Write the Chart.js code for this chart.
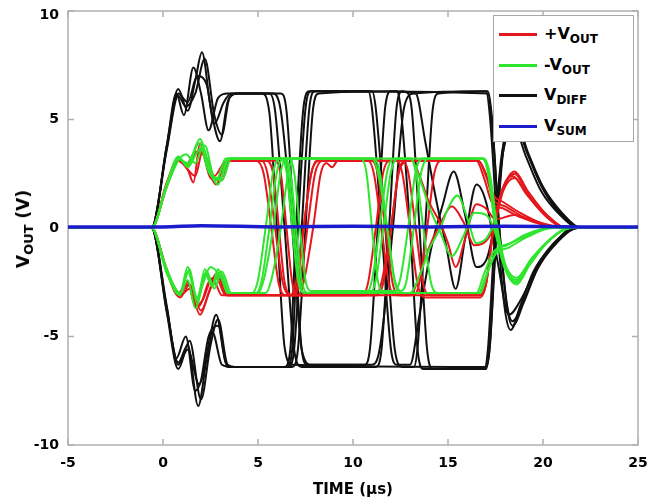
<!DOCTYPE html>
<html>
<head>
<meta charset="utf-8">
<script src="https://cdn.jsdelivr.net/npm/chart.js@4.4.0/dist/chart.umd.min.js"></script>
<style>
html, body { margin: 0; padding: 0; background: #fff; }
#wrap { position: relative; width: 654px; height: 504px; font-family: "DejaVu Sans", sans-serif; font-weight: bold; color: #000; }
#chart { position: absolute; left: 0; top: 0; }
#ytitle { position: absolute; left: 23px; top: 229px; transform: translate(-50%, -50%) rotate(-90deg); white-space: nowrap; font-size: 17px; }
#ytitle sub { font-size: 13px; }
#legend { position: absolute; left: 493px; top: 15px; width: 141px; height: 127px; border: 1px solid #a8a8a8; background: #fff; box-sizing: border-box; }
.item { position: absolute; left: 0; height: 22px; width: 138px; }
.item .swatch { position: absolute; left: 5px; top: 9px; width: 38px; height: 3px; }
.item .txt { position: absolute; left: 50px; top: 0; font-size: 16px; line-height: 20px; white-space: nowrap; }
sub { font-size: 12px; vertical-align: -4px; line-height: 0; }
</style>
</head>
<body>
<div id="wrap">
  <canvas id="chart" width="654" height="504"></canvas>
  <div id="ytitle">V<sub>OUT</sub> (V)</div>
  <div id="legend"></div>
</div>
<script>
// axes
const timeRange = [-5, 25];
const voltRange = [-10, 10];
const xTicks = [-5, 0, 5, 10, 15, 20, 25];
const yTicks = [-10, -5, 0, 5, 10];

// legend
const seriesMain = ['+V', '-V', 'V', 'V'];
const seriesSub = ['OUT', 'OUT', 'DIFF', 'SUM'];
const seriesColors = ['#e5171d', '#2ee62e', '#111111', '#1b1bcc'];

// traces, [time us, volts]
const red1 = [[-5,0],[-0.6,0],[0.2,2.0],[0.8,3.2],[1.3,2.7],[1.6,2.1],[1.95,3.9],[2.4,2.6],[2.8,2.0],[3.3,3.0],[3.7,3.1],[5.4,3.1],[5.8,2.5],[6.1,0],[6.4,-2.5],[6.8,-3.1],[11.2,-3.1],[11.5,-2.5],[12.0,0],[12.4,2.6],[12.8,3.1],[16.6,3.1],[17.0,2.4],[17.4,1.3],[18.0,1.0],[19.0,0.5],[20.5,0.1],[21.2,0],[25,0]];
const red2 = [[-5,0],[-0.6,0],[0.2,1.9],[0.8,3.1],[1.2,2.9],[1.6,3.4],[2.0,3.6],[2.5,2.3],[2.9,2.2],[3.4,3.1],[4.9,3.1],[5.3,2.5],[5.7,0],[6.1,-2.6],[6.5,-3.1],[16.7,-3.1],[17.0,-2.6],[17.4,0],[17.9,1.8],[18.5,2.5],[19.2,1.6],[20.2,0.6],[21.3,0],[25,0]];
const red3 = [[-5,0],[-0.6,0],[0.2,-2.0],[0.9,-3.1],[1.4,-2.8],[1.95,-4.0],[2.4,-3.0],[2.8,-2.1],[3.4,-3.1],[6.9,-3.1],[7.2,-2.5],[7.6,0],[8.0,2.5],[8.4,3.1],[11.0,3.1],[11.3,2.5],[11.7,0],[12.1,-2.6],[12.5,-3.1],[13.2,-3.1],[13.5,-2.5],[13.9,0],[14.3,2.6],[14.7,3.1],[16.6,3.1],[17.0,2.5],[17.4,1.5],[17.9,1.2],[18.8,0.7],[20,0.2],[21,0],[25,0]];
const red4 = [[-5,0],[-0.6,0],[0.2,-1.9],[0.8,-3.0],[1.3,-2.5],[1.7,-3.6],[2.1,-3.3],[2.6,-2.3],[3.1,-3.1],[7.1,-3.1],[7.4,-2.5],[7.9,0],[8.3,2.5],[8.6,3.0],[8.9,2.8],[9.2,3.1],[12.3,3.1],[12.6,2.5],[13.0,0],[13.4,-2.6],[13.8,-3.2],[16.7,-3.2],[17.0,-2.6],[17.4,0],[17.9,1.9],[18.4,2.4],[19.1,1.6],[20.1,0.6],[21.2,0],[25,0]];
const red5 = [[-5,0],[-0.6,0],[0.2,2.1],[0.8,3.2],[1.2,2.8],[1.7,2.4],[2.1,3.6],[2.6,2.3],[3.1,2.2],[3.5,3.1],[5.9,3.1],[6.2,2.5],[6.5,0],[6.8,-2.5],[7.1,-3.1],[10.5,-3.1],[10.8,-2.5],[11.2,0],[11.6,2.6],[12.0,3.1],[13.1,3.1],[13.5,2.4],[14.0,1.2],[14.6,0.2],[15.0,-0.7],[15.4,-1.8],[15.9,-0.5],[16.5,1.1],[17.0,0.9],[17.5,0.4],[18.5,0.6],[19.5,0.3],[21,0],[25,0]];
const red6 = [[-5,0],[-0.6,0],[0.2,-2.0],[0.9,-3.2],[1.4,-2.6],[2.0,-3.8],[2.5,-2.8],[2.9,-2.2],[3.4,-3.1],[6.8,-3.1],[7.1,-2.5],[7.4,0],[7.8,2.5],[8.1,3.1],[10.8,3.1],[11.1,2.5],[11.5,0],[11.9,-2.6],[12.3,-3.1],[13.0,-3.1],[13.5,-2.2],[14.0,-0.9],[14.6,0.2],[15.2,1.0],[15.8,0.3],[16.4,-0.8],[17.0,-0.6],[17.4,0],[17.9,1.7],[18.5,2.3],[19.2,1.5],[20.2,0.5],[21.2,0],[25,0]];
const red7 = [[-5,0],[-0.6,0],[0.2,-2.0],[0.8,-3.1],[1.3,-2.6],[1.9,-3.6],[2.4,-2.5],[2.8,-2.3],[3.3,-3.1],[6.7,-3.1],[7.0,-2.5],[7.4,0],[7.8,2.5],[8.2,3.1],[16.5,3.1],[16.9,2.3],[17.3,1.2],[17.9,0.9],[18.8,0.5],[20.2,0.1],[21,0],[25,0]];
const red8 = [[-5,0],[-0.6,0],[0.2,2.0],[0.8,3.1],[1.3,2.9],[1.8,3.5],[2.3,3.2],[2.7,2.4],[3.2,3.0],[3.6,3.1],[5.2,3.1],[5.5,2.5],[5.9,0],[6.3,-2.5],[6.7,-3.1],[11.3,-3.1],[11.6,-2.5],[12.0,0],[12.4,2.5],[12.7,3.0],[12.9,2.6],[13.3,0],[13.7,-2.6],[14.1,-3.1],[16.7,-3.1],[17.0,-2.5],[17.4,0],[17.9,1.8],[18.5,2.6],[19.2,1.7],[20.2,0.6],[21.3,0],[25,0]];

const green1 = [[-5,0],[-0.6,0],[0.2,-2.0],[0.9,-3.0],[1.4,-1.9],[1.8,-3.5],[2.2,-1.9],[2.6,-2.6],[2.9,-1.9],[3.4,-3.0],[3.8,-3.0],[5.0,-3.0],[5.3,-2.4],[5.8,0],[6.2,2.6],[6.5,3.2],[11.0,3.2],[11.3,2.6],[11.8,0],[12.2,-2.5],[12.6,-3.0],[16.6,-3.0],[17.0,-2.2],[17.5,-1.2],[18.2,-0.9],[19.2,-0.4],[20.5,0],[25,0]];
const green2 = [[-5,0],[-0.6,0],[0.2,-1.9],[0.9,-3.0],[1.3,-2.4],[1.7,-3.7],[2.1,-2.6],[2.5,-1.8],[3.0,-2.2],[3.5,-3.0],[4.7,-3.0],[5.0,-2.4],[5.4,0],[5.8,2.6],[6.2,3.2],[16.8,3.2],[17.1,2.6],[17.5,0],[18.0,-1.8],[18.6,-2.5],[19.3,-1.6],[20.3,-0.6],[21.4,0],[25,0]];
const green3 = [[-5,0],[-0.6,0],[0.2,2.0],[0.8,3.2],[1.3,3.0],[1.95,4.1],[2.4,2.8],[2.9,2.0],[3.4,3.2],[6.3,3.2],[6.6,2.6],[6.9,0],[7.2,-2.5],[7.5,-3.0],[10.7,-3.0],[11.0,-2.4],[11.4,0],[11.8,2.6],[12.2,3.2],[13.0,3.2],[13.3,2.6],[13.7,0],[14.1,-2.5],[14.5,-3.0],[16.7,-3.0],[17.1,-2.0],[17.6,-1.0],[18.3,-0.7],[19.3,-0.3],[20.3,0],[25,0]];
const green4 = [[-5,0],[-0.6,0],[0.2,1.9],[0.8,3.1],[1.2,3.4],[1.7,3.0],[2.1,3.7],[2.6,2.4],[3.0,2.3],[3.5,3.2],[6.6,3.2],[6.9,2.6],[7.2,0],[7.5,-2.4],[7.8,-2.9],[12.2,-2.9],[12.5,-2.3],[12.9,0],[13.3,2.6],[13.7,3.2],[16.9,3.2],[17.2,2.5],[17.6,0],[18.1,-1.9],[18.6,-2.4],[19.4,-1.5],[20.4,-0.5],[21.5,0],[25,0]];
const green5 = [[-5,0],[-0.6,0],[0.2,-2.1],[0.9,-3.1],[1.3,-2.0],[1.8,-3.3],[2.3,-2.0],[2.7,-2.8],[3.1,-2.0],[3.6,-3.0],[5.4,-3.0],[5.7,-2.4],[6.2,0],[6.6,2.6],[6.9,3.2],[10.4,3.2],[10.7,2.6],[11.0,0],[11.3,-2.4],[11.7,-3.0],[13.0,-3.0],[13.5,-2.2],[14.0,-1.0],[14.6,0],[15.0,0.9],[15.5,1.5],[16.0,0.5],[16.5,-0.7],[17.0,-0.5],[17.4,0],[18.0,-1.7],[18.6,-2.3],[19.4,-1.4],[20.4,-0.5],[21.4,0],[25,0]];
const green6 = [[-5,0],[-0.6,0],[0.2,2.0],[0.8,3.3],[1.3,2.8],[1.8,3.5],[2.2,3.8],[2.7,2.3],[3.1,2.2],[3.6,3.2],[6.4,3.2],[6.7,2.6],[7.0,0],[7.3,-2.4],[7.6,-3.0],[10.9,-3.0],[11.2,-2.4],[11.6,0],[12.0,2.6],[12.4,3.2],[13.0,3.2],[13.5,2.3],[14.0,1.0],[14.6,-0.2],[15.2,-1.3],[15.8,-0.4],[16.4,0.7],[17.0,0.6],[17.4,0],[18.0,-1.9],[18.6,-2.6],[19.3,-1.7],[20.3,-0.6],[21.4,0],[25,0]];
const green7 = [[-5,0],[-0.6,0],[0.2,2.0],[0.8,3.2],[1.3,2.9],[1.9,3.9],[2.4,2.6],[2.8,2.2],[3.3,3.2],[6.2,3.2],[6.5,2.6],[6.8,0],[7.1,-2.4],[7.4,-3.0],[16.5,-3.0],[16.9,-2.1],[17.4,-1.1],[18.1,-0.8],[19.1,-0.3],[20.3,0],[25,0]];
const green8 = [[-5,0],[-0.6,0],[0.2,-2.0],[0.9,-3.0],[1.3,-1.8],[1.8,-3.2],[2.2,-2.1],[2.6,-2.7],[3.0,-2.0],[3.5,-3.0],[4.9,-3.0],[5.2,-2.4],[5.6,0],[6.0,2.6],[6.4,3.2],[11.1,3.2],[11.4,2.6],[11.8,0],[12.2,-2.4],[12.5,-2.9],[12.8,-2.5],[13.2,0],[13.6,2.6],[14.0,3.2],[16.8,3.2],[17.1,2.6],[17.5,0],[18.0,-1.8],[18.6,-2.5],[19.3,-1.6],[20.3,-0.6],[21.4,0],[25,0]];

const black1 = [[-5,0],[-0.6,0],[0.2,3.8],[0.8,6.4],[1.3,5.4],[1.7,6.8],[2.05,8.1],[2.5,5.6],[3.0,4.0],[3.4,5.8],[3.8,6.2],[5.8,6.2],[6.2,5.4],[6.8,0],[7.3,-5.6],[7.8,-6.3],[11.0,-6.3],[11.4,-5.6],[12.1,0],[12.7,5.6],[13.2,6.2],[17.0,6.3],[17.2,5.2],[17.6,0],[18.0,-3.8],[18.3,-4.7],[18.8,-3.6],[19.5,-2.0],[20.5,-0.8],[21.6,0],[25,0]];
const black2 = [[-5,0],[-0.6,0],[0.2,3.8],[0.7,6.2],[1.1,5.2],[1.6,7.4],[2.0,6.2],[2.4,4.5],[2.9,6.0],[3.4,6.2],[5.2,6.2],[5.6,5.3],[6.0,0],[6.4,-5.5],[6.8,-6.3],[17.0,-6.4],[17.2,-5.5],[17.5,-1.0],[17.9,3.5],[18.5,5.0],[19.2,3.4],[20.0,1.8],[21.0,0.6],[22.0,0],[25,0]];
const black3 = [[-5,0],[-0.6,0],[0.2,-3.8],[0.8,-6.2],[1.3,-5.4],[1.85,-8.2],[2.3,-6.0],[2.8,-4.0],[3.3,-6.2],[3.7,-6.4],[6.6,-6.4],[6.9,-5.6],[7.3,0],[7.7,5.5],[8.0,6.3],[11.0,6.3],[11.2,5.5],[11.7,0],[12.2,-5.6],[12.6,-6.4],[13.2,-6.4],[13.4,-5.5],[13.8,0],[14.2,5.5],[14.5,6.2],[17.1,6.3],[17.3,5.2],[17.7,0],[18.1,-3.6],[18.4,-4.5],[19.0,-3.4],[19.7,-1.9],[20.7,-0.7],[21.8,0],[25,0]];
const black4 = [[-5,0],[-0.6,0],[0.2,-3.6],[0.7,-6.0],[1.2,-5.0],[1.7,-7.5],[2.1,-6.8],[2.6,-4.8],[3.1,-6.3],[3.6,-6.4],[6.8,-6.4],[7.1,-5.6],[7.5,0],[7.9,5.5],[8.2,6.2],[12.3,6.3],[12.5,5.6],[13.0,0],[13.4,-5.6],[13.7,-6.5],[16.9,-6.5],[17.1,-5.6],[17.4,-1.2],[17.8,3.2],[18.4,4.8],[19.1,3.3],[19.9,1.7],[20.9,0.6],[21.9,0],[25,0]];
const black5 = [[-5,0],[-0.6,0],[0.2,3.6],[0.8,6.1],[1.2,5.6],[1.7,6.2],[2.2,7.8],[2.7,5.2],[3.1,4.3],[3.5,6.0],[4.0,6.2],[6.2,6.2],[6.5,5.4],[6.9,0],[7.3,-5.6],[7.6,-6.3],[10.6,-6.3],[10.9,-5.5],[11.3,0],[11.7,5.6],[12.0,6.3],[13.3,6.2],[13.8,4.0],[14.4,1.2],[14.9,-0.8],[15.4,-2.8],[15.9,-0.5],[16.5,2.0],[17.0,1.2],[17.6,-1.5],[18.2,-4.0],[18.9,-3.2],[19.8,-1.6],[20.8,-0.5],[21.8,0],[25,0]];
const black6 = [[-5,0],[-0.6,0],[0.2,-3.9],[0.8,-6.5],[1.4,-5.2],[2.0,-7.9],[2.5,-5.4],[2.9,-4.2],[3.4,-6.3],[3.8,-6.4],[6.5,-6.4],[6.8,-5.6],[7.1,0],[7.5,5.5],[7.8,6.3],[10.8,6.3],[11.0,5.5],[11.5,0],[12.0,-5.6],[12.3,-6.3],[13.0,-6.3],[13.5,-4.0],[14.1,-1.0],[14.7,1.0],[15.3,2.6],[15.9,0.6],[16.5,-1.8],[17.0,-1.5],[17.4,0],[17.9,3.5],[18.5,4.8],[19.2,3.4],[20.0,1.8],[21.0,0.6],[22.0,0],[25,0]];
const black7 = [[-5,0],[-0.6,0],[0.2,-3.7],[0.8,-6.3],[1.3,-5.6],[1.9,-7.2],[2.4,-5.0],[2.9,-4.5],[3.4,-6.4],[6.4,-6.4],[6.7,-5.6],[7.0,0],[7.4,5.6],[7.7,6.3],[17.1,6.2],[17.3,5.0],[17.7,0],[18.1,-3.5],[18.4,-4.3],[19.0,-3.3],[19.8,-1.7],[20.8,-0.6],[21.8,0],[25,0]];
const black8 = [[-5,0],[-0.6,0],[0.2,3.7],[0.8,6.2],[1.3,5.8],[1.8,7.0],[2.3,6.6],[2.7,4.8],[3.2,5.8],[3.6,6.2],[5.6,6.2],[5.9,5.4],[6.4,0],[6.9,-5.6],[7.3,-6.4],[11.2,-6.4],[11.5,-5.6],[11.9,0],[12.3,5.6],[12.6,6.3],[12.9,6.2],[13.1,5.4],[13.5,0],[13.9,-5.6],[14.2,-6.5],[17.0,-6.5],[17.2,-5.4],[17.5,-0.8],[17.9,3.7],[18.5,5.1],[19.2,3.5],[20.0,1.9],[21.0,0.7],[22.0,0],[25,0]];

const blue1 = [[-5,0.05],[0,0.05],[2,0.1],[6,0.05],[10,0.08],[14,0.05],[18,0.08],[22,0.05],[25,0.05]];

const seriesTraces = [
    [red1, red2, red3, red4, red5, red6, red7, red8],
    [green1, green2, green3, green4, green5, green6, green7, green8],
    [black1, black2, black3, black4, black5, black6, black7, black8],
    [blue1]
];
// draw order: blue on top, then green, red, black
const seriesOrder = [2, 1, 3, 0];
const seriesWidth = [2, 2, 2, 3.5];

const FONT = '"DejaVu Sans", sans-serif';

// legend
const legendEl = document.getElementById('legend');
seriesMain.forEach((m, i) => {
    const item = document.createElement('div');
    item.className = 'item';
    item.style.top = (8 + i * 30.5) + 'px';
    item.innerHTML = '<span class="swatch" style="background:' + seriesColors[i] + '"></span>' +
        '<span class="txt">' + m + '<sub>' + seriesSub[i] + '</sub></span>';
    legendEl.appendChild(item);
});

const datasets = [];
seriesTraces.forEach((traces, s) => {
    traces.forEach((tr, k) => {
        datasets.push({
            label: seriesMain[s] + seriesSub[s] + ' ' + (k + 1),
            data: tr,
            borderColor: seriesColors[s],
            borderWidth: seriesWidth[s],
            pointRadius: 0,
            fill: false,
            cubicInterpolationMode: 'monotone',
            order: seriesOrder[s]
        });
    });
});

// box with inward ticks on four sides, plus the tick labels
const framePlugin = {
    id: 'frame',
    beforeDatasetsDraw(chart) {
        const { ctx, chartArea: a, scales: { x, y } } = chart;
        ctx.save();
        ctx.strokeStyle = '#b0b0b0';
        ctx.lineWidth = 1.5;
        ctx.strokeRect(a.left, a.top, a.right - a.left, a.bottom - a.top);
        ctx.beginPath();
        xTicks.forEach(v => {
            const px = x.getPixelForValue(v);
            ctx.moveTo(px, a.bottom); ctx.lineTo(px, a.bottom - 6);
            ctx.moveTo(px, a.top); ctx.lineTo(px, a.top + 6);
        });
        yTicks.forEach(v => {
            const py = y.getPixelForValue(v);
            ctx.moveTo(a.left, py); ctx.lineTo(a.left + 6, py);
            ctx.moveTo(a.right, py); ctx.lineTo(a.right - 6, py);
        });
        ctx.stroke();

        ctx.fillStyle = '#000';
        ctx.font = 'bold 14px ' + FONT;
        ctx.textBaseline = 'middle';
        ctx.textAlign = 'center';
        xTicks.forEach(v => ctx.fillText(String(v), x.getPixelForValue(v), a.bottom + 18));
        ctx.textAlign = 'right';
        yTicks.forEach(v => ctx.fillText(String(v), a.left - 9, Math.max(y.getPixelForValue(v), a.top + 4)));
        ctx.restore();
    }
};

new Chart(document.getElementById('chart'), {
    type: 'line',
    data: { datasets },
    plugins: [framePlugin],
    options: {
        responsive: false,
        animation: false,
        layout: { padding: { top: 11, right: 16, left: 0, bottom: 0 } },
        plugins: { legend: { display: false }, tooltip: { enabled: false } },
        scales: {
            x: {
                type: 'linear', min: timeRange[0], max: timeRange[1],
                afterFit: s => { s.height = 59; },
                grid: { display: false, drawTicks: false },
                border: { display: false },
                ticks: { display: false },
                title: { display: true, text: 'TIME (µs)', color: '#000', padding: { top: 0, bottom: 5 }, font: { family: FONT, size: 15, weight: 'bold' } }
            },
            y: {
                type: 'linear', min: voltRange[0], max: voltRange[1],
                afterFit: s => { s.width = 68; },
                grid: { display: false, drawTicks: false },
                border: { display: false },
                ticks: { display: false }
            }
        }
    }
});
</script>
</body>
</html>
